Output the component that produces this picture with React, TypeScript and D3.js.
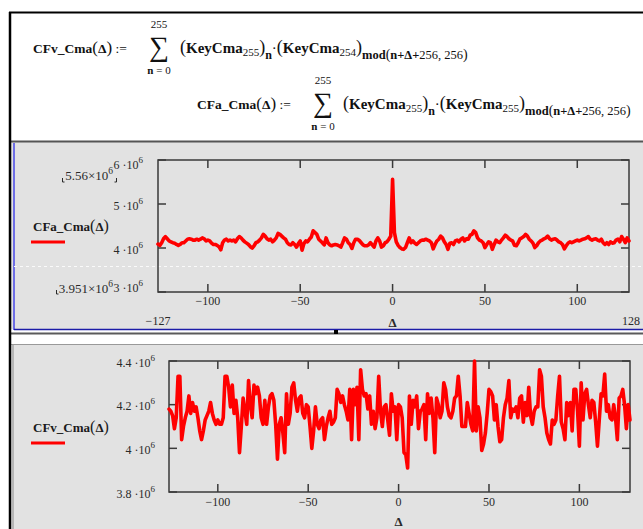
import React from 'react';
import * as d3 from 'd3';

// Δ runs over the integers from deltaFirst to deltaLast (one value per Δ)
const deltaFirst = -127;
const deltaLast = 128;

// CFa_Cma(Δ), in units of 10^6
const cfaValues = [
  4.09,
  4.06, 4.12, 4.21, 4.26, 4.21, 4.16, 4.14, 4.12, 4.11, 4.08,
  4.06, 4.08, 4.12, 4.12, 4.16, 4.20, 4.21, 4.20, 4.18, 4.18,
  4.20, 4.18, 4.20, 4.23, 4.21, 4.16, 4.18, 4.16, 4.11, 4.08,
  4.08, 4.06, 4.03, 3.96, 4.12, 4.18, 4.20, 4.16, 4.18, 4.16,
  4.18, 4.14, 4.21, 4.26, 4.23, 4.18, 4.14, 4.11, 4.08, 4.03,
  4.00, 4.05, 4.12, 4.14, 4.18, 4.23, 4.31, 4.27, 4.21, 4.18,
  4.20, 4.14, 4.18,
  4.23, 4.33, 4.31, 4.27, 4.23, 4.20, 4.12, 4.08, 4.07, 4.12,
  4.08, 4.02, 4.10, 4.16, 3.951, 4.10, 4.16, 4.14, 4.20, 4.25,
  4.39, 4.35, 4.31, 4.20, 4.16, 4.12, 4.07, 4.23, 4.12, 4.07,
  4.05, 4.07, 4.08, 4.07, 4.05, 4.02, 4.12, 4.23, 4.20, 4.12,
  4.08, 3.99, 4.12, 4.20, 4.20, 4.17, 4.12, 4.07, 4.05, 4.05,
  4.07, 4.12, 4.07, 4.02, 4.16, 4.23, 4.16, 4.02, 4.05, 4.12,
  4.14, 4.20, 4.27,
  5.56,
  4.35,
  4.14, 4.06, 4.01, 3.98, 3.97, 4.01, 4.12, 4.23, 4.12, 4.16,
  4.11, 4.08, 4.12, 4.16, 4.18, 4.18, 4.20, 4.18, 4.16, 4.12,
  3.98, 4.08, 4.16, 4.20, 4.27, 4.23, 4.14, 4.08, 3.97, 4.11,
  4.12, 4.08, 4.16, 4.18, 4.14, 4.20, 4.23, 4.16, 4.21, 4.20,
  4.29, 4.31, 4.39, 4.35, 4.23, 4.18, 4.16, 4.12, 4.01, 4.08,
  4.14, 4.12, 3.97, 4.08, 4.18, 4.14, 4.12, 4.18, 4.23, 4.29,
  4.26, 4.21, 4.18,
  4.16, 4.06, 4.05, 4.12, 4.21, 4.23, 4.26, 4.31, 4.27, 4.20,
  4.16, 4.11, 4.01, 4.05, 4.12, 4.16, 4.18, 4.21, 4.23, 4.27,
  4.21, 4.18, 4.20, 4.21, 4.18, 4.14, 4.12, 4.08, 3.98, 4.05,
  4.11, 4.14, 4.12, 4.14, 4.16, 4.18, 4.16, 4.18, 4.20, 4.21,
  4.23, 4.26, 4.20, 4.18, 4.20, 4.21, 4.18, 4.16, 4.20, 4.12,
  4.08, 4.12, 4.08, 4.14, 4.11, 4.12, 4.18, 4.20, 4.14, 4.26,
  4.20, 4.12, 4.23,
  4.16,
];

// CFv_Cma(Δ), in units of 10^6
const cfvValues = [
  4.18, 4.17, 4.15, 4.09, 4.14, 4.33, 4.33, 4.04, 4.10, 4.14,
  4.17, 4.24, 4.16, 4.21, 4.17, 4.19, 4.14, 4.08, 4.04, 4.08,
  4.13, 4.15, 4.17, 4.21, 4.16, 4.13, 4.11, 4.13, 4.11, 4.11,
  4.14, 4.33, 4.33, 4.28, 4.19, 4.29, 4.16, 4.22, 4.14, 3.98,
  4.10, 4.23, 4.17, 4.11, 4.31, 4.20, 4.14, 4.29, 4.25, 4.28,
  4.24, 4.14, 4.11, 4.22, 4.11, 4.19, 4.24, 4.25, 4.22, 4.11,
  3.95, 4.11, 4.14, 4.07, 3.98, 4.25, 4.11, 4.16, 4.28, 4.30,
  4.22, 4.17, 4.23, 4.24, 4.16, 4.14, 4.20, 4.19, 4.10, 4.00,
  4.08, 4.19, 4.11, 4.09,
  4.13, 4.14, 4.04, 4.10, 4.14, 4.17, 4.11, 4.12, 4.14, 4.27,
  4.25, 4.21, 4.24, 4.20, 4.17, 4.13, 4.27, 4.04, 4.27, 4.20,
  4.28, 4.04, 4.36, 4.27, 4.24, 4.25, 4.18, 4.24, 4.11, 4.17,
  4.09, 4.14, 4.33, 4.17, 4.10, 4.19, 4.20, 4.13, 4.06, 4.25,
  4.17, 4.19, 4.04, 4.20, 4.19, 4.14, 3.98, 3.97, 3.91, 4.24,
  4.11, 4.22, 4.19, 4.24, 4.09, 4.17, 4.18, 4.20, 4.04, 4.25,
  4.16, 4.23, 4.14, 3.98, 4.23, 4.20, 4.14, 4.17, 4.30, 4.27,
  4.19, 4.15, 4.14, 4.17, 4.23, 4.24, 4.33, 4.24, 4.10, 4.10,
  4.10, 4.21, 4.16, 4.11, 4.08, 4.40, 4.08, 4.19, 4.14, 3.99,
  4.02, 4.07, 4.16, 4.27, 4.26, 4.24, 4.13, 4.20, 4.10, 4.03,
  4.04, 4.14, 4.20, 4.23, 4.31, 4.14, 4.18, 4.17, 4.19, 4.14,
  4.23, 4.24, 4.12, 4.21, 4.15, 4.28, 4.15, 4.11, 4.17, 4.19,
  4.19, 4.36, 4.33, 4.19, 4.14, 4.07, 4.04, 4.02, 4.13, 4.11,
  4.13, 4.24, 4.33, 4.12, 4.09, 4.04, 4.21, 4.15, 4.21, 4.08,
  4.27, 4.27, 4.17, 4.01, 4.30, 4.13, 4.25, 4.27, 4.20, 4.14,
  4.22, 4.21, 4.12, 4.01, 4.13, 4.25, 4.24, 4.34, 4.17, 4.20,
  4.14, 4.13, 4.20, 4.14, 4.04, 4.23, 4.24, 4.27, 4.20, 4.09,
  4.20, 4.13,
];

const xTickValues = [-100, -50, 0, 50, 100];
const cfaYTicks = [3, 4, 5, 6];
const cfaYTickLabels = ['3', '4', '5', '6'];
const cfvYTicks = [3.8, 4, 4.2, 4.4];
const cfvYTickLabels = ['3.8', '4', '4.2', '4.4'];
const cfaMarkerLabels = ['5.56', '3.951'];
const xRangeLabels = ['\u2212127', '128'];

const SERIF = "'Liberation Serif', 'Times New Roman', serif";
const RED = '#ff0000';
const PANEL = '#e2e2e2';
const AXIS = '#3a3a3a';
const TXT = '#2a2a2a';

const minus = (v: number) => (v < 0 ? '\u2212' + Math.abs(v) : String(v));

type PlotProps = {
  values: number[];
  left: number;
  right: number;
  top: number;
  bottom: number;
  yDomain: [number, number];
  yTicks: number[];
  yLabels: string[];
  yLabelEnd: number;
  clampLabels: boolean;
  xLabelBaseline: number;
  deltaBaseline: number;
  legend: string;
  legendY: number;
};

function Plot(p: PlotProps) {
  const x = d3.scaleLinear().domain([deltaFirst, deltaLast]).range([p.left, p.right]);
  const y = d3.scaleLinear().domain(p.yDomain).range([p.bottom, p.top]);
  const line = d3
    .line<number>()
    .x((_, i) => x(deltaFirst + i))
    .y((d) => y(d));
  const tick = 8;
  return (
    <g fontFamily={SERIF}>
      <rect
        x={p.left}
        y={p.top}
        width={p.right - p.left}
        height={p.bottom - p.top}
        fill="none"
        stroke={AXIS}
        strokeWidth={1.5}
      />
      {xTickValues.map((v) => (
        <g key={'x' + v}>
          <line x1={x(v)} x2={x(v)} y1={p.top} y2={p.top + tick} stroke={AXIS} strokeWidth={1.5} />
          <line x1={x(v)} x2={x(v)} y1={p.bottom} y2={p.bottom - tick} stroke={AXIS} strokeWidth={1.5} />
          <text x={x(v)} y={p.xLabelBaseline} textAnchor="middle" fontSize={12} fill={TXT}>
            {minus(v)}
          </text>
        </g>
      ))}
      {p.yTicks.map((v, i) => {
        let b = y(v) + 5.5;
        if (p.clampLabels) b = Math.min(Math.max(b, p.top + 9), p.bottom);
        return (
          <g key={'y' + v}>
            <line x1={p.left} x2={p.left + tick} y1={y(v)} y2={y(v)} stroke={AXIS} strokeWidth={1.5} />
            <line x1={p.right} x2={p.right - tick} y1={y(v)} y2={y(v)} stroke={AXIS} strokeWidth={1.5} />
            <text x={p.yLabelEnd} y={b} textAnchor="end" fontSize={12} fill={TXT}>
              {p.yLabels[i]} {'\u00b710'}
              <tspan dy={-6} fontSize={9}>
                6
              </tspan>
            </text>
          </g>
        );
      })}
      <path
        d={line(p.values) || ''}
        fill="none"
        stroke={RED}
        strokeWidth={3.6}
        strokeLinejoin="round"
        strokeLinecap="round"
      />
      <text x={x(0)} y={p.deltaBaseline} textAnchor="middle" fontSize={13} fontWeight="bold" fill={TXT}>
        Δ
      </text>
      <text x={33} y={p.legendY} fontSize={13} fill="#1a1a1a">
        <tspan fontWeight="bold">{p.legend}</tspan>
        <tspan fontSize={16}>(</tspan>
        <tspan fontWeight="bold">Δ</tspan>
        <tspan fontSize={16}>)</tspan>
      </text>
      <line x1={31} x2={65} y1={p.legendY + 11} y2={p.legendY + 11} stroke={RED} strokeWidth={3} />
    </g>
  );
}

function Formula(props: { x: number; y: number; name: string; sumX: number; exprX: number; second: string }) {
  const { x, y, name, sumX, exprX, second } = props;
  return (
    <g fontFamily={SERIF} fill="#111">
      <text x={x} y={y} fontSize={13.5}>
        <tspan fontWeight="bold">{name}</tspan>
        <tspan fontSize={17}>(</tspan>
        <tspan fontWeight="bold">Δ</tspan>
        <tspan fontSize={17}>)</tspan>
        <tspan> :=</tspan>
      </text>
      <text x={sumX} y={y - 25} textAnchor="middle" fontSize={11}>
        255
      </text>
      <text x={sumX} y={y + 3} textAnchor="middle" fontSize={28}>
        ∑
      </text>
      <text x={sumX} y={y + 21} textAnchor="middle" fontSize={11}>
        <tspan fontWeight="bold">n</tspan> = 0
      </text>
      <text x={exprX} y={y} fontSize={15}>
        <tspan fontSize={18}>(</tspan>
        <tspan fontWeight="bold">KeyCma</tspan>
        <tspan fontSize={11} dy={3}>255</tspan>
        <tspan fontSize={18} dy={-3}>)</tspan>
        <tspan fontSize={12} fontWeight="bold" dy={6}>n</tspan>
        <tspan dy={-6}>·</tspan>
        <tspan fontSize={18}>(</tspan>
        <tspan fontWeight="bold">KeyCma</tspan>
        <tspan fontSize={11} dy={3}>{second}</tspan>
        <tspan fontSize={18} dy={-3}>)</tspan>
        <tspan fontSize={12.5} fontWeight="bold" dy={6}>mod</tspan>
        <tspan fontSize={14}>(</tspan>
        <tspan fontSize={12.5} fontWeight="bold">n+Δ+</tspan>
        <tspan fontSize={12.5}>256, 256</tspan>
        <tspan fontSize={14}>)</tspan>
      </text>
    </g>
  );
}

export default function App() {
  return (
    <svg
      width={643}
      height={529}
      style={{ position: 'absolute', left: 0, top: 0, display: 'block', background: '#fff' }}
    >
      {/* formula area */}
      <rect x={0} y={0} width={643} height={529} fill="#fff" />
      <line x1={9} x2={643} y1={12.5} y2={12.5} stroke="#000" strokeWidth={2} />
      <Formula x={33} y={53} name="CFv_Cma" sumX={159} exprX={180} second="254" />
      <Formula x={197} y={109} name="CFa_Cma" sumX={323} exprX={343} second="255" />

      {/* top panel */}
      <rect x={11} y={142} width={632} height={187} fill={PANEL} />
      <line x1={9} x2={643} y1={141.5} y2={141.5} stroke="#555" strokeWidth={2} />
      <line x1={14} x2={14} y1={143} y2={330} stroke="#6e6ee6" strokeWidth={2} />
      <line x1={14} x2={643} y1={329.5} y2={329.5} stroke="#1c1ca8" strokeWidth={1.5} />
      <line x1={9} x2={643} y1={333.5} y2={333.5} stroke="#5a5a5a" strokeWidth={2} />
      <rect x={334} y={330} width={4} height={4} fill="#000" />
      <line x1={14} x2={643} y1={266.5} y2={266.5} stroke="#fafafa" strokeWidth={1} strokeDasharray="3,3" />

      <Plot
        values={cfaValues}
        left={158}
        right={629}
        top={160}
        bottom={292}
        yDomain={[3, 6]}
        yTicks={cfaYTicks}
        yLabels={cfaYTickLabels}
        yLabelEnd={143}
        clampLabels={true}
        xLabelBaseline={305}
        deltaBaseline={327}
        legend="CFa_Cma"
        legendY={231}
      />
      <g fontFamily={SERIF} fontSize={13} fill={TXT}>
        <text x={113} y={180} textAnchor="end">
          {cfaMarkerLabels[0]}×10
          <tspan dy={-6} fontSize={9.5}>6</tspan>
        </text>
        <text x={113} y={293} textAnchor="end">
          {cfaMarkerLabels[1]}×10
          <tspan dy={-6} fontSize={9.5}>6</tspan>
        </text>
        <text x={158} y={325} textAnchor="middle" fontSize={12}>{xRangeLabels[0]}</text>
        <text x={631} y={325} textAnchor="middle" fontSize={12}>{xRangeLabels[1]}</text>
      </g>
      <path d="M62.5,178 v4 h2" fill="none" stroke={TXT} strokeWidth={1} />
      <path d="M116.5,178 v4 h-2" fill="none" stroke={TXT} strokeWidth={1} />
      <path d="M56.5,290 v4 h2" fill="none" stroke={TXT} strokeWidth={1} />

      {/* bottom panel */}
      <rect x={11} y={345} width={632} height={184} fill={PANEL} />
      <line x1={11} x2={643} y1={344.5} y2={344.5} stroke="#999" strokeWidth={1} />
      <line x1={13} x2={13} y1={345} y2={529} stroke="#8a8a8a" strokeWidth={1} />
      <Plot
        values={cfvValues}
        left={169}
        right={630}
        top={361}
        bottom={492}
        yDomain={[3.8, 4.4]}
        yTicks={cfvYTicks}
        yLabels={cfvYTickLabels}
        yLabelEnd={155}
        clampLabels={false}
        xLabelBaseline={506}
        deltaBaseline={526}
        legend="CFv_Cma"
        legendY={432}
      />

      {/* left black border */}
      <line x1={10} x2={10} y1={12} y2={529} stroke="#000" strokeWidth={2.5} />
    </svg>
  );
}
